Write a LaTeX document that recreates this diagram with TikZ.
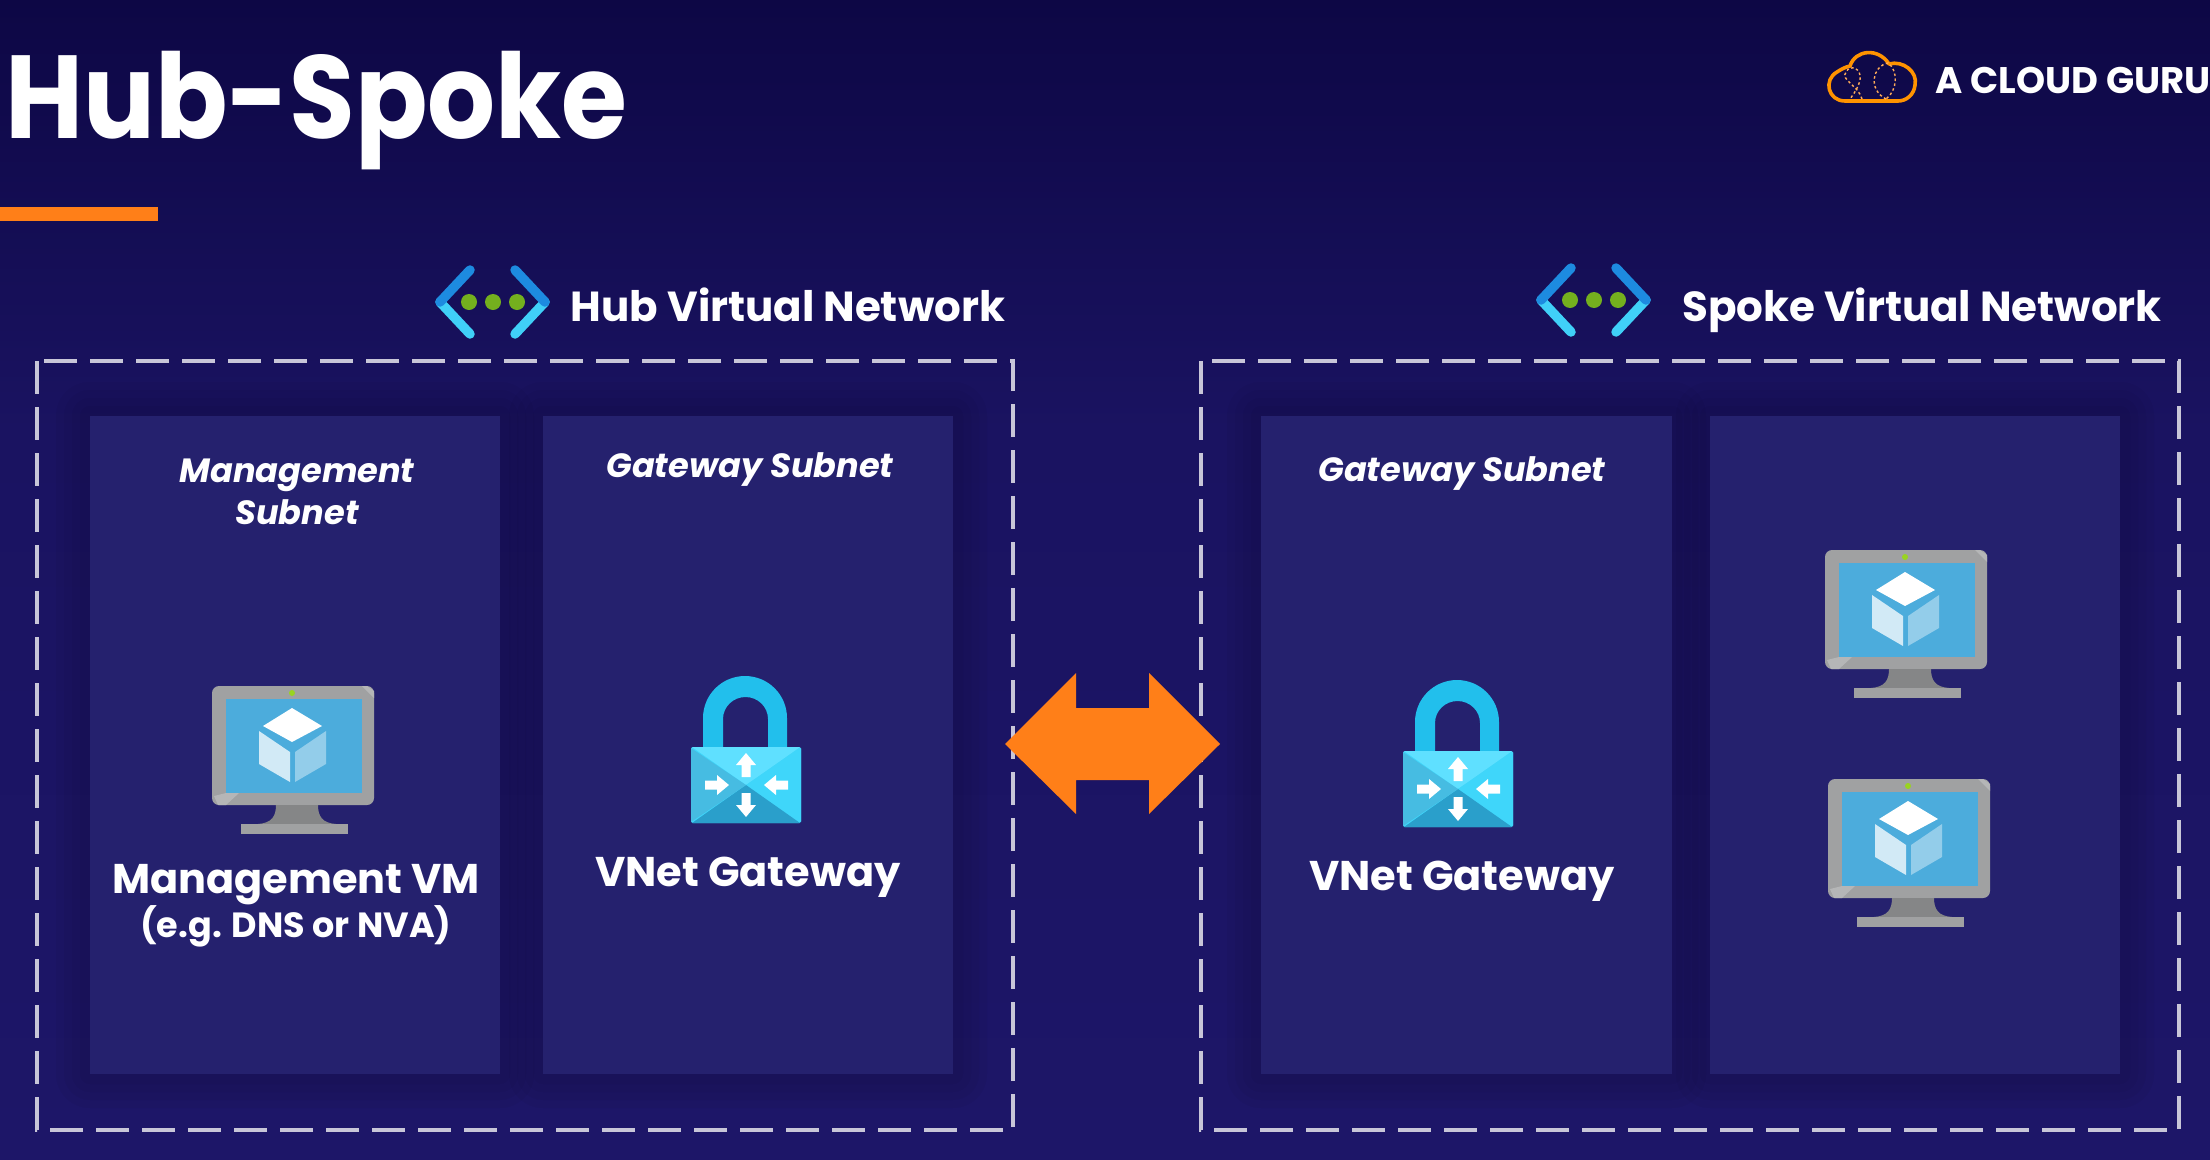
\documentclass[tikz,border=0pt]{standalone}
\usepackage{fontspec}
\setmainfont{Poppins}
\usetikzlibrary{calc}
\definecolor{bgtop}{HTML}{0D0745}
\definecolor{bgmid}{HTML}{1A1361}
\definecolor{bgbot}{HTML}{1D1668}
\definecolor{subfill}{HTML}{25216E}
\definecolor{acorange}{HTML}{FF7F18}
\definecolor{dashgrey}{HTML}{C8C6D8}
\definecolor{mongrey}{HTML}{A0A1A2}
\definecolor{mondark}{HTML}{858687}
\definecolor{monlight}{HTML}{B5B6B7}
\definecolor{screenblue}{HTML}{4CACDC}
\definecolor{lockblue}{HTML}{22BFEC}
\definecolor{locktop}{HTML}{5FE0FF}
\definecolor{lockright}{HTML}{3FD6FA}
\definecolor{lockbot}{HTML}{2A9FCB}
\definecolor{lockleft}{HTML}{46BCE2}
\definecolor{netcyan}{HTML}{40D0F8}
\definecolor{netblue}{HTML}{1D8BE0}
\definecolor{netgreen}{HTML}{74B01E}
\tikzset{
  x=1pt,y=-1pt,
  netbox/.style={draw=dashgrey,line width=4.5pt,dash pattern=on 33pt off 13pt},
  subnet/.style={fill=subfill,draw=none},
  title/.style={font=\fontsize{118}{118}\selectfont\bfseries,text=white,inner sep=0,anchor=base west},
  nettext/.style={font=\fontsize{42}{42}\selectfont\bfseries,text=white,inner sep=0,anchor=base},
  subtext/.style={font=\fontsize{33.6}{33.6}\selectfont\bfseries\itshape,text=white,inner sep=0,anchor=base},
  captext/.style={font=\fontsize{41.5}{41.5}\selectfont\bfseries,text=white,inner sep=0,anchor=base},
  smalltext/.style={font=\fontsize{35}{35}\selectfont\bfseries,text=white,inner sep=0,anchor=base},
  vmicon/.pic={
    \fill[mongrey,rounded corners=7pt] (0,0) rectangle (162,119);
    \fill[monlight] (162,12) -- (150,0) -- (155,0) -- (162,5) -- cycle;
    \fill[monlight] (14,107) -- (27,107) -- (14,119) -- (6,119) -- (2,110) -- cycle;
    \fill[screenblue] (14,13) rectangle (150,107);
    \fill[yellow!60!green] (80,7) circle (3);
    \fill[mondark] (64,119) -- (106,119) .. controls (106,130) and (110,137) .. (124,138) -- (46,138) .. controls (60,137) and (64,130) .. (64,119) -- cycle;
    \fill[mongrey] (29,138) rectangle (136,148);
    \fill[white] (80,22) -- (110,40) -- (80,56) -- (51,40) -- cycle;
    \fill[white,opacity=.75] (47,45) -- (47,78) -- (78,96) -- (78,66) -- cycle;
    \fill[white,opacity=.4] (83,66) -- (114,45) -- (114,78) -- (83,96) -- cycle;
  },
  lockarrow/.pic={
    \fill[white] (-4.5,0) -- (-4.5,-12) -- (-10,-12) -- (0,-24) -- (10,-12) -- (4.5,-12) -- (4.5,0) -- cycle;
  },
  lockicon/.pic={
    \fill[lockblue] (12,2) -- (12,-29) arc[start angle=180,end angle=360,x radius=42,y radius=42] -- (96,2) -- (77,2) -- (77,-28) arc[start angle=360,end angle=180,x radius=22.5,y radius=22] -- (32,2) -- cycle;
    \fill[lockright,rounded corners=2pt] (0,0) rectangle (110,76);
    \fill[locktop] (1,0) -- (109,0) -- (55,38) -- cycle;
    \fill[lockright] (110,1) -- (110,75) -- (55,38) -- cycle;
    \fill[lockbot] (1,76) -- (109,76) -- (55,38) -- cycle;
    \fill[lockleft] (0,1) -- (0,75) -- (55,38) -- cycle;
    \pic at (55,30) {lockarrow};
    \pic[rotate=180] at (55,46) {lockarrow};
    \pic[rotate=-90] at (14,38) {lockarrow};
    \pic[rotate=90] at (97,38) {lockarrow};
  },
  neticon/.pic={
    \draw[line width=9.5pt,color=netcyan,line cap=round] (6,0) -- (36,32);
    \draw[line width=9.5pt,color=netcyan,line cap=round] (111,0) -- (81,32);
    \draw[line width=9.5pt,color=netblue,line cap=round] (6,0) -- (36,-32);
    \draw[line width=9.5pt,color=netblue,line cap=round] (111,0) -- (81,-32);
    \foreach \dx in {35,59,83}{ \fill[netgreen] (\dx,0) circle (8); }
  },
}
\begin{document}
\begin{tikzpicture}
\useasboundingbox (0,0) rectangle (2210,1159);
\shade[top color=bgtop,bottom color=bgmid] (0,0) rectangle (2210,430);
\shade[top color=bgmid,bottom color=bgbot] (0,430) rectangle (2210,1159);
% Soft halos round the subnets
\foreach \a/\b/\c/\d in {90/416/500/1074,543/416/953/1074,1261/416/1672/1074,1710/416/2120/1074}{
  \foreach \g in {34,26,18,10}{
    \fill[black,opacity=.03,rounded corners=\g pt] (\a-\g,\b-\g) rectangle (\c+\g,\d+\g);
  }
}
% Title
\node[title] (titletext) at (5,138) {\scalebox{.905}[1]{Hub-Spoke}};
\fill[acorange] (0,207) rectangle (158,221);
% Logo
\node (logotext) [font=\fontsize{37}{37}\selectfont\bfseries,text=white,inner sep=0,anchor=base west] at (1935,93) {A CLOUD GURU};
\draw[orange!85!yellow,line width=3.6pt,line join=round] (1845,101) .. controls (1828,101) and (1823,80) .. (1837,72) .. controls (1840,70) and (1845,67) .. (1850,66) .. controls (1855,50) and (1878,47) .. (1889,64) .. controls (1903,60) and (1918,72) .. (1915,85) .. controls (1914,95) and (1906,101) .. (1898,101) -- cycle;
\draw[orange!65!white,line width=1.4pt,dash pattern=on 2.5pt off 2.5pt] (1862,99) .. controls (1858,85) and (1840,80) .. (1846,72) .. controls (1850,64) and (1862,68) .. (1860,80) .. controls (1858,88) and (1855,92) .. (1850,99);
\draw[orange!65!white,line width=1.4pt,dash pattern=on 2.5pt off 2.5pt] (1886,99) .. controls (1868,90) and (1872,66) .. (1888,63) .. controls (1898,70) and (1898,90) .. (1886,99);
% Virtual network icons and labels
\pic at (434,302) {neticon};
\pic at (1535,300) {neticon};
\node[nettext] (hubnet) at (788,321) {Hub Virtual Network};
\node[nettext] (spokenet) at (1922,321) {Spoke Virtual Network};
% Dashed virtual network frames
\draw[netbox] (37,361) rectangle (1013,1130);
\draw[netbox] (1201,361) rectangle (2179,1130);
% Subnets
\fill[subnet] (90,416) rectangle (500,1074);
\fill[subnet] (543,416) rectangle (953,1074);
\fill[subnet] (1261,416) rectangle (1672,1074);
\fill[subnet] (1710,416) rectangle (2120,1074);
% Subnet labels
\node[subtext] (mgmtsub) at (297,482) {Management};
\node[subtext] (mgmtsubb) at (297,524) {Subnet};
\node[subtext] (gwsub1) at (750,477) {Gateway Subnet};
\node[subtext] (gwsub2) at (1462,481) {Gateway Subnet};
% Icons
\pic at (212,686) {vmicon};
\pic at (1825,550) {vmicon};
\pic at (1828,779) {vmicon};
\pic at (691,747) {lockicon};
\pic at (1403,751) {lockicon};
% Captions
\node[captext] (mgmtvm) at (296,893) {Management VM};
\node[smalltext] (mgmtnote) at (296,937) {(e.g. DNS or NVA)};
\node[captext] (gw1) at (748,886) {VNet Gateway};
\node[captext] (gw2) at (1462,890) {VNet Gateway};
% Peering arrow
\fill[acorange] (1005,744) -- (1076,673) -- (1076,708) -- (1149,708) -- (1149,673) -- (1220,744) -- (1149,814) -- (1149,780) -- (1076,780) -- (1076,814) -- cycle;
\end{tikzpicture}
\end{document}
